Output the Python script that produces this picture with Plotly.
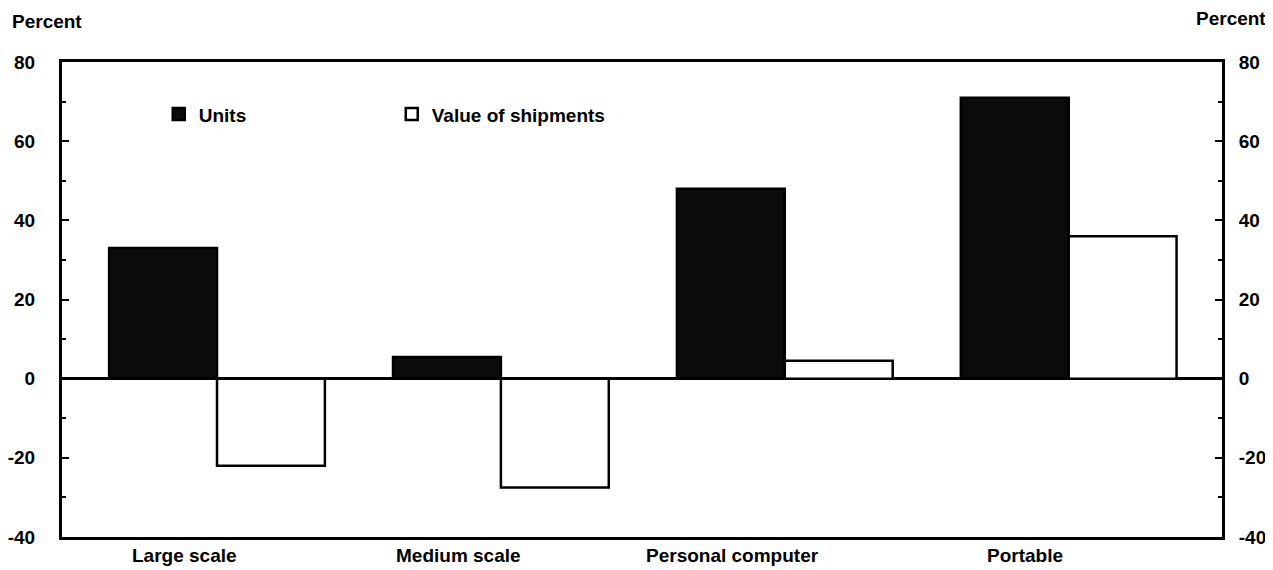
import plotly.graph_objects as go

categories = ["Large scale", "Medium scale", "Personal computer", "Portable"]
units = [33, 5.5, 48, 71]
value_of_shipments = [-22, -27.5, 4.5, 36]
y_ticks = [-40, -20, 0, 20, 40, 60, 80]
y_tick_labels = ["-40", "-20", "0", "20", "40", "60", "80"]

# style: horizontal shift of category labels (in category units)
LABEL_SHIFT = [-0.113, -0.151, -0.186, -0.154]

FONT = "Liberation Sans, Arial, sans-serif"
W, H = 1265, 562          # page body has an 8px margin
L, R, T, B = 54, 51, 54, 33
PW, PH = W - L - R, H - T - B

fig = go.Figure()
fig.add_trace(go.Bar(
    x=categories, y=units, name="Units",
    marker=dict(color="#0b0b0b", line=dict(color="black", width=2.5)),
))
fig.add_trace(go.Bar(
    x=categories, y=value_of_shipments, name="Value of shipments",
    marker=dict(color="white", line=dict(color="black", width=2.5)),
))
# helper trace so that the right-hand axis is drawn
fig.add_trace(go.Scatter(x=[categories[0]], y=[None], yaxis="y2",
                         showlegend=False, hoverinfo="skip"))

axis_common = dict(
    range=[-40, 80], tickvals=y_ticks, ticktext=y_tick_labels,
    ticks="inside", ticklen=7, tickcolor="black", tickwidth=1.5,
    tickfont=dict(family=FONT, size=19, color="black", weight="bold"),
    showgrid=False, showline=True, linecolor="black", linewidth=3,
    minor=dict(ticks="inside", dtick=10, ticklen=4, tickcolor="black"),
)

fig.update_layout(
    width=W, height=H,
    paper_bgcolor="white", plot_bgcolor="white",
    margin=dict(l=L, r=R, t=T, b=B, autoexpand=False),
    barmode="group", bargap=0.24, bargroupgap=0,
    font=dict(family=FONT, color="black"),
    xaxis=dict(
        range=[-0.546, 3.54], showticklabels=False, ticks="",
        showline=True, linecolor="black", linewidth=3, mirror=True,
        showgrid=False,
    ),
    yaxis=dict(**axis_common, zeroline=True, zerolinecolor="black",
               zerolinewidth=3, ticklabelstandoff=20),
    yaxis2=dict(**axis_common, overlaying="y", side="right",
                zeroline=False, ticklabelstandoff=10),
    legend=dict(
        orientation="h", x=0.0834, y=0.93, xanchor="left", yanchor="top",
        entrywidth=188, entrywidthmode="pixels",
        font=dict(family=FONT, size=19, color="black", weight="bold"),
        bgcolor="rgba(0,0,0,0)", itemclick=False,
    ),
    showlegend=True,
)

for i, cat in enumerate(categories):
    fig.add_annotation(
        x=i + LABEL_SHIFT[i], xref="x", y=-18 / PH, yref="paper",
        text=cat, showarrow=False, xanchor="center", yanchor="middle",
        font=dict(family=FONT, size=19, color="black", weight="bold"),
    )

fig.add_annotation(
    x=(2 - L) / PW, xref="paper", y=1 + (T - 13) / PH, yref="paper",
    text="Percent", showarrow=False, xanchor="left", yanchor="middle",
    font=dict(family=FONT, size=19, color="black", weight="bold"))
fig.add_annotation(
    x=(1260 - L) / PW, xref="paper", y=1 + (T - 10) / PH, yref="paper",
    text="Percent", showarrow=False, xanchor="right", yanchor="middle",
    font=dict(family=FONT, size=19, color="black", weight="bold"))

fig.write_html("out.html")
